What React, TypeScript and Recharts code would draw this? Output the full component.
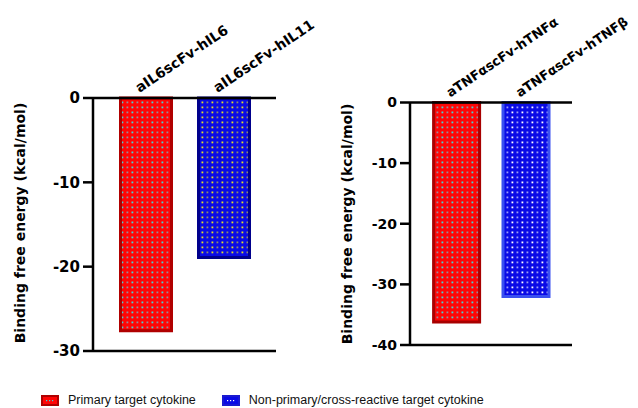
import React from "react";
import {
  BarChart,
  Bar,
  Cell,
  XAxis,
  YAxis,
  ReferenceLine,
} from "recharts";

// left panel: anti-IL6 scFv
const il6Categories = ["aIL6scFv-hIL6", "aIL6scFv-hIL11"];
const il6Energy = [-27.6, -18.9];
const il6Ticks = [0, -10, -20, -30];

// right panel: anti-TNFα scFv
const tnfCategories = ["aTNFαscFv-hTNFα", "aTNFαscFv-hTNFβ"];
const tnfEnergy = [-36.2, -32.0];
const tnfTicks = [0, -10, -20, -30, -40];

const legendLabels = [
  "Primary target cytokine",
  "Non-primary/cross-reactive target cytokine",
];

const Y_LABEL = "Binding free energy (kcal/mol)";
const BOLD = "'DejaVu Sans', sans-serif";

function makeTick(fontSize: number) {
  return function CategoryTick(props: any) {
    const { x, y, payload } = props;
    const tx = x - 6;
    const ty = y - 5;
    return (
      <text
        x={tx}
        y={ty}
        transform={`rotate(-34 ${tx} ${ty})`}
        textAnchor="start"
        fontFamily={BOLD}
        fontWeight="bold"
        fontSize={fontSize}
        fill="#000"
      >
        {payload.value}
      </text>
    );
  };
}

function yLabel(cx: number, cy: number) {
  return {
    content: () => (
      <text
        x={cx}
        y={cy}
        transform={`rotate(-90 ${cx} ${cy})`}
        textAnchor="middle"
        dominantBaseline="central"
        fontFamily={BOLD}
        fontWeight="bold"
        fontSize={14}
        fill="#000"
      >
        {Y_LABEL}
      </text>
    ),
  };
}

function Patterns({ prefix, blueDot }: { prefix: string; blueDot: string }) {
  return (
    <defs>
      <pattern id={`${prefix}-red`} width="10" height="5" patternUnits="userSpaceOnUse">
        <rect width="10" height="5" fill="#ff0505" />
        <rect x="1.5" y="1.5" width="1.8" height="1.8" fill="#3fd6d6" />
        <rect x="6.5" y="1.5" width="1.8" height="1.8" fill="#9a8a9a" />
      </pattern>
      <pattern id={`${prefix}-blue`} width="10" height="5" patternUnits="userSpaceOnUse">
        <rect width="10" height="5" fill="#0a0ae6" />
        <rect x="1.5" y="1.5" width="1.8" height="1.8" fill={blueDot} />
        <rect x="6.5" y="1.5" width="1.8" height="1.8" fill={blueDot} opacity={0.6} />
      </pattern>
    </defs>
  );
}

const axisStroke = { stroke: "#000", strokeWidth: 2.5 };

function Panel({
  prefix,
  categories,
  values,
  ticks,
  width,
  margin,
  barSize,
  pad,
  tickFont,
  catFont,
  labelPos,
  blueDot,
  blueStroke,
  redStroke,
}: any) {
  const data = categories.map((name: string, i: number) => ({
    name,
    energy: values[i],
  }));
  const bottom = ticks[ticks.length - 1];
  return (
    <BarChart width={width} height={360} data={data} margin={margin}>
      <Patterns prefix={prefix} blueDot={blueDot} />
      <XAxis
        dataKey="name"
        orientation="top"
        height={10}
        tickLine={false}
        tickSize={0}
        tickMargin={0}
        interval={0}
        axisLine={axisStroke}
        padding={{ left: pad, right: pad }}
        tick={makeTick(catFont)}
      />
      <YAxis
        type="number"
        domain={[bottom, 0]}
        ticks={ticks}
        interval={0}
        width={60}
        tickSize={10}
        tickMargin={3}
        axisLine={axisStroke}
        tickLine={axisStroke}
        tick={{
          fontSize: tickFont,
          fontFamily: BOLD,
          fontWeight: "bold",
          fill: "#000",
        }}
        label={yLabel(labelPos[0], labelPos[1])}
      />
      <ReferenceLine y={bottom} stroke="#000" strokeWidth={2.5} />
      <Bar dataKey="energy" barSize={barSize} isAnimationActive={false} strokeWidth={3}>
        <Cell fill={`url(#${prefix}-red)`} stroke={redStroke} />
        <Cell fill={`url(#${prefix}-blue)`} stroke={blueStroke} />
      </Bar>
    </BarChart>
  );
}

function Swatch({ fill, stroke, dot }: { fill: string; stroke: string; dot: string }) {
  return (
    <svg width={18} height={11} style={{ display: "block" }}>
      <rect x={1} y={1} width={16} height={9} fill={fill} stroke={stroke} strokeWidth={2} />
      {[5, 8, 11].map((cx) => (
        <rect key={cx} x={cx} y={5} width={1.2} height={1.2} fill={dot} />
      ))}
    </svg>
  );
}

export default function App() {
  return (
    <div
      style={{
        position: "absolute",
        left: 0,
        top: 0,
        width: 638,
        height: 408,
        background: "#fff",
        overflow: "hidden",
      }}
    >
      <div style={{ position: "absolute", left: 0, top: 0 }}>
        <Panel
          prefix="il6"
          categories={il6Categories}
          values={il6Energy}
          ticks={il6Ticks}
          width={320}
          margin={{ top: 88, right: 44, bottom: 9, left: 33 }}
          barSize={51}
          pad={13.5}
          tickFont={15}
          catFont={14}
          labelPos={[20, 223]}
          blueDot="#e8e020"
          blueStroke="#00008c"
          redStroke="#b00000"
        />
      </div>
      <div style={{ position: "absolute", left: 320, top: 0 }}>
        <Panel
          prefix="tnf"
          categories={tnfCategories}
          values={tnfEnergy}
          ticks={tnfTicks}
          width={318}
          margin={{ top: 92.5, right: 66, bottom: 15, left: 30 }}
          barSize={46}
          pad={11.6}
          tickFont={14}
          catFont={13}
          labelPos={[27, 224]}
          blueDot="#ffffff"
          blueStroke="#3a50f0"
          redStroke="#a80000"
        />
      </div>
      <div
        style={{
          position: "absolute",
          left: 41,
          top: 393,
          display: "flex",
          alignItems: "center",
          fontFamily: "'Liberation Sans', Arial, sans-serif",
          fontSize: 12.5,
          lineHeight: "14px",
          color: "#111",
          whiteSpace: "nowrap",
        }}
      >
        <Swatch fill="#ff0505" stroke="#b00000" dot="#3fd6d6" />
        <span style={{ marginLeft: 9 }}>{legendLabels[0]}</span>
        <span style={{ marginLeft: 26 }}>
          <Swatch fill="#0a0ae6" stroke="#1a1ad0" dot="#ffffff" />
        </span>
        <span style={{ marginLeft: 9 }}>{legendLabels[1]}</span>
      </div>
    </div>
  );
}
